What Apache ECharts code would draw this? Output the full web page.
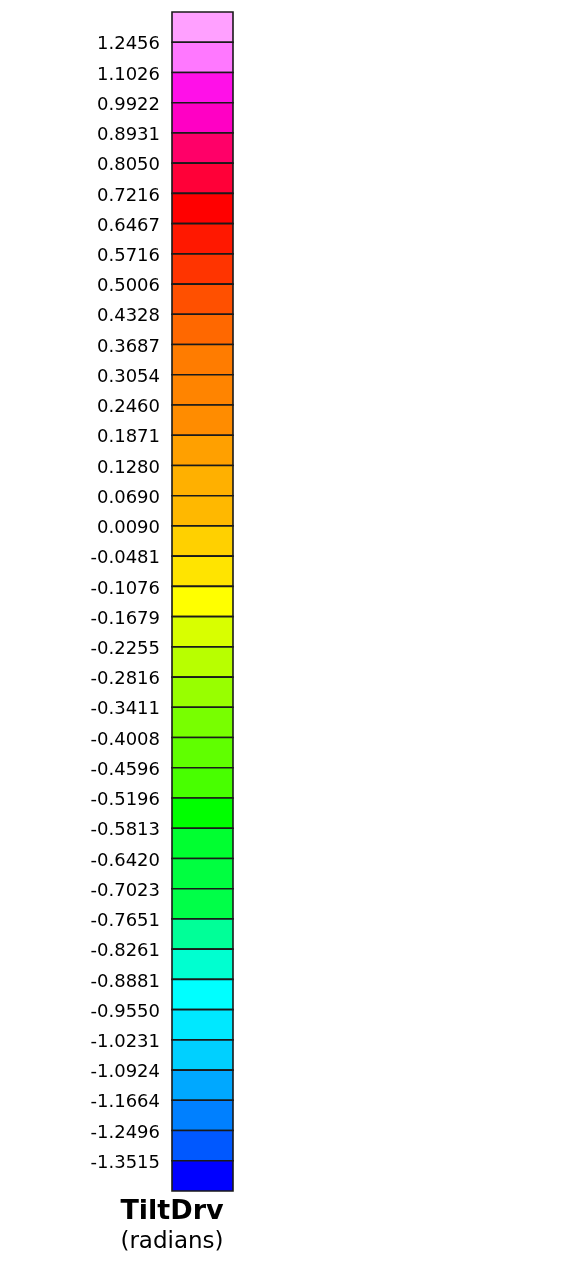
<!DOCTYPE html>
<html>
<head>
<meta charset="utf-8">
<script src="https://cdn.jsdelivr.net/npm/echarts@6/dist/echarts.min.js"></script>
<style>
  html, body { margin: 0; padding: 0; background: #ffffff; }
  #chart { width: 572px; height: 1271px; }
</style>
</head>
<body>
<div id="chart"></div>
<script>
// Boundary tick labels, top to bottom
var tickLabels = [
  '1.2456', '1.1026', '0.9922', '0.8931', '0.8050', '0.7216', '0.6467', '0.5716',
  '0.5006', '0.4328', '0.3687', '0.3054', '0.2460', '0.1871', '0.1280', '0.0690',
  '0.0090', '-0.0481', '-0.1076', '-0.1679', '-0.2255', '-0.2816', '-0.3411', '-0.4008',
  '-0.4596', '-0.5196', '-0.5813', '-0.6420', '-0.7023', '-0.7651', '-0.8261', '-0.8881',
  '-0.9550', '-1.0231', '-1.0924', '-1.1664', '-1.2496', '-1.3515'
];

// Cell colours, top to bottom
var cellColors = [
  '#FFA0FF', '#FF78FF', '#FF10E8', '#FF00C4', '#FF0068', '#FF0038', '#FF0000', '#FF1800',
  '#FF3400', '#FF5000', '#FF6800', '#FF7C00', '#FF8400', '#FF8C00', '#FFA000', '#FFB000',
  '#FFB800', '#FFD000', '#FFE400', '#FFFF00', '#D8FF00', '#B8FF00', '#98FF00', '#78FF00',
  '#60FF00', '#48FF00', '#00FF00', '#00FF30', '#00FF40', '#00FF48', '#00FF98', '#00FFD0',
  '#00FFFF', '#00E8FF', '#00D0FF', '#00A8FF', '#0080FF', '#0058FF', '#0000FF'
];

var titleText = 'TiltDrv';
var unitText = '(radians)';

var cellData = cellColors.map(function (c, i) { return [i, c]; });

var chart = echarts.init(document.getElementById('chart'), null, { renderer: 'canvas' });

var option = {
  backgroundColor: '#ffffff',
  animation: false,
  grid: { left: 172, width: 61, top: 12, height: 1179, containLabel: false },
  xAxis: {
    type: 'value', min: 0, max: 1, show: false
  },
  yAxis: {
    type: 'value',
    inverse: true,
    min: 0,
    max: cellColors.length,
    interval: 1,
    axisLine: { show: false },
    axisTick: { show: false },
    splitLine: { show: false },
    axisLabel: {
      margin: 12,
      color: '#000000',
      fontFamily: 'DejaVu Sans',
      fontSize: 18,
      showMinLabel: false,
      showMaxLabel: false,
      formatter: function (v) {
        var k = Math.round(v);
        if (k < 1 || k > tickLabels.length) return '';
        return '{v|' + tickLabels[k - 1] + '}';
      },
      rich: {
        v: {
          fontFamily: 'DejaVu Sans',
          fontSize: 18,
          color: '#000000',
          padding: [5, 0, 0, 0]
        }
      }
    }
  },
  series: [{
    type: 'custom',
    data: cellData,
    encode: { y: 0 },
    renderItem: function (params, api) {
      var i = api.value(0);
      var p0 = api.coord([0, i]);
      var p1 = api.coord([1, i + 1]);
      return {
        type: 'rect',
        shape: { x: p0[0], y: p0[1], width: p1[0] - p0[0], height: p1[1] - p0[1] },
        style: { fill: cellColors[i], stroke: '#1a1a1a', lineWidth: 1.6 }
      };
    }
  }],
  graphic: [
    {
      type: 'text', x: 172, y: 1212,
      style: {
        text: titleText, font: 'bold 27px "DejaVu Sans"', fill: '#000000',
        align: 'center', verticalAlign: 'middle'
      }
    },
    {
      type: 'text', x: 172, y: 1242,
      style: {
        text: unitText, font: '23px "DejaVu Sans"', fill: '#000000',
        align: 'center', verticalAlign: 'middle'
      }
    }
  ]
};

chart.setOption(option);
</script>
</body>
</html>
